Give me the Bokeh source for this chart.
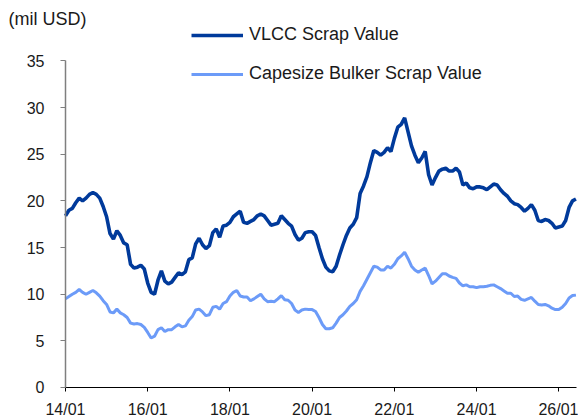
from bokeh.plotting import figure
from bokeh.models import Range1d, FixedTicker, Legend, LegendItem, Label
from bokeh.embed import file_html
from bokeh.resources import INLINE

# Monthly values from 2014/01
vlcc = [18.4, 19.0, 19.2, 19.8, 20.3, 20.0, 20.3, 20.7, 20.9, 20.7, 20.3, 19.4,
        18.3, 16.5, 15.9, 16.8, 16.3, 15.5, 15.3, 13.2, 12.8, 12.9, 13.1, 12.7,
        11.2, 10.2, 10.0, 11.5, 12.5, 11.4, 11.1, 11.3, 11.8, 12.3, 12.1, 12.4,
        13.7, 13.9, 15.4, 16.0, 15.3, 14.9, 15.2, 16.6, 17.0, 16.1, 17.3, 17.4,
        17.7, 18.3, 18.6, 18.9, 17.7, 17.6, 17.8, 18.0, 18.4, 18.6, 18.4, 17.9,
        17.4, 17.5, 17.6, 18.4, 18.0, 17.6, 17.3, 16.4, 15.8, 16.0, 16.6, 16.7,
        16.7, 16.3, 15.0, 13.8, 12.9, 12.5, 12.4, 13.0, 14.2, 15.3, 16.3, 17.1,
        17.5, 18.2, 20.8, 21.6, 22.6, 24.1, 25.4, 25.2, 24.9, 25.2, 25.7, 25.3,
        26.7, 27.9, 28.2, 28.9, 27.4, 25.9, 24.9, 24.1, 24.6, 25.3, 22.8, 21.7,
        22.5, 23.2, 23.4, 23.5, 23.2, 23.2, 23.5, 23.1, 21.7, 21.9, 21.4, 21.3,
        21.5, 21.5, 21.4, 21.2, 21.5, 21.8, 21.7, 21.2, 20.8, 20.5, 20.0, 19.7,
        19.6, 19.3, 18.9, 19.2, 19.6, 19.0, 17.9, 17.8, 18.0, 17.9, 17.6, 17.1,
        17.2, 17.3, 17.9, 19.3, 20.0, 20.2]

capesize = [9.5, 9.75, 10.0, 10.2, 10.5, 10.2, 10.0, 10.2, 10.4, 10.15, 9.8, 9.3,
            8.9, 8.1, 8.0, 8.4, 8.0, 7.8, 7.5, 6.9, 6.8, 6.85, 6.75, 6.45,
            5.9, 5.3, 5.5, 6.2, 6.4, 6.0, 6.2, 6.2, 6.5, 6.75, 6.5, 6.6,
            7.2, 7.6, 8.3, 8.4, 8.1, 7.7, 7.8, 8.6, 8.7, 8.4, 9.0, 9.2,
            9.8, 10.2, 10.4, 9.8, 9.7, 9.7, 9.3, 9.5, 9.75, 10.0, 9.5, 9.2,
            9.25, 9.2, 9.5, 9.85, 9.4, 9.35, 9.0, 8.3, 8.05, 8.3, 8.4, 8.35,
            8.35, 8.15, 7.5, 6.75, 6.3, 6.3, 6.4, 6.9, 7.5, 7.8, 8.2, 8.7,
            9.0, 9.4, 10.3, 10.9, 11.6, 12.3, 13.0, 12.9, 12.6, 12.6, 13.0, 12.8,
            13.2, 13.8, 14.1, 14.5, 13.8, 13.0, 12.6, 12.35, 12.6, 12.8, 12.0, 11.1,
            11.4, 11.8, 12.2, 12.2, 11.95, 11.8, 11.7, 11.2, 10.9, 11.0, 10.8, 10.8,
            10.7, 10.8, 10.8, 10.85, 10.95, 11.0, 10.8, 10.6, 10.35, 10.1, 10.1, 9.75,
            9.8, 9.45, 9.35, 9.5, 9.65, 9.25, 8.9, 8.85, 8.9, 8.75, 8.5, 8.35,
            8.35, 8.6, 9.0, 9.6, 9.85, 9.9]

tick_months = [0, 24, 48, 72, 96, 120, 144]
tick_labels = ["14/01", "16/01", "18/01", "20/01", "22/01", "24/01", "26/01"]
y_ticks = [0, 5, 10, 15, 20, 25, 30, 35]

x = list(range(len(vlcc)))
x_axis_end = 149.17
y_max = 35

FONT = "'Liberation Sans', Arial, sans-serif"
TXT = "#1a1a1a"

p = figure(width=578, height=419, output_backend="svg", toolbar_location=None,
           x_range=Range1d(-18.97, 149.75), y_range=Range1d(-3.43, 41.48),
           min_border_left=0, min_border_right=0, min_border_top=0, min_border_bottom=0)
p.outline_line_color = None
p.grid.visible = False
p.background_fill_color = "white"

r1 = p.line(x, vlcc, line_color="#003A9B", line_width=3.6)
r2 = p.line(x, capesize, line_color="#6C9BF8", line_width=3.0)

xa = p.xaxis[0]
xa.fixed_location = 0
xa.ticker = FixedTicker(ticks=tick_months)
xa.bounds = (0, x_axis_end)
xa.major_label_overrides = {m: l for m, l in zip(tick_months, tick_labels)}
xa.axis_line_color = "#000000"
xa.major_tick_line_color = "#000000"
xa.major_tick_in = 0
xa.major_tick_out = 4
xa.minor_tick_line_color = None
xa.major_label_standoff = 10
xa.major_label_text_font = FONT
xa.major_label_text_font_size = "16px"
xa.major_label_text_color = TXT

ya = p.yaxis[0]
ya.fixed_location = 0
ya.bounds = (0, y_max)
ya.ticker = FixedTicker(ticks=y_ticks)
ya.axis_line_color = "#7f7f7f"
ya.axis_line_width = 1.5
ya.major_tick_line_color = "#7f7f7f"
ya.major_tick_in = 0
ya.major_tick_out = 5
ya.minor_tick_line_color = None
ya.major_label_standoff = 16
ya.major_label_text_font = FONT
ya.major_label_text_font_size = "16px"
ya.major_label_text_color = TXT

legend = Legend(items=[LegendItem(label="VLCC Scrap Value", renderers=[r1]),
                       LegendItem(label="Capesize Bulker Scrap Value", renderers=[r2])],
                location=(191, 335), orientation="vertical",
                glyph_width=52, glyph_height=20, label_height=20, label_standoff=6,
                spacing=18, padding=0, margin=0,
                border_line_color=None, background_fill_alpha=0,
                label_text_font=FONT, label_text_font_size="18px",
                label_text_color=TXT)
p.add_layout(legend, "center")

unit = Label(x=8, y=401, x_units="screen", y_units="screen", text="(mil USD)",
             text_font=FONT, text_font_size="18px", text_color=TXT,
             text_baseline="middle", text_align="left")
p.add_layout(unit)

open("out.html", "w").write(file_html(p, INLINE))
